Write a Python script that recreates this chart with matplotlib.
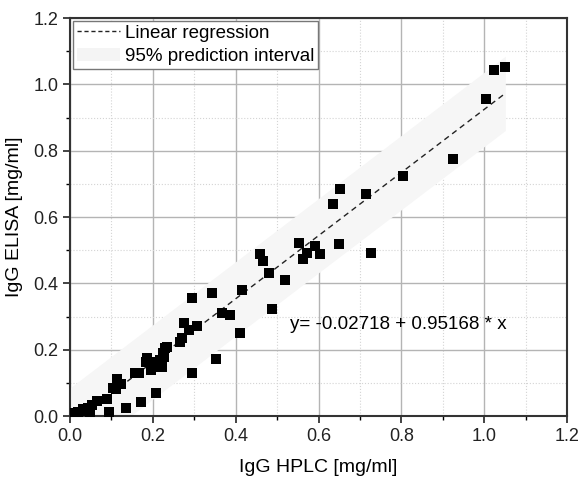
import numpy as np
import matplotlib
matplotlib.use("Agg")
import matplotlib.pyplot as plt
from matplotlib.patches import Patch
from matplotlib.lines import Line2D
from matplotlib.ticker import MultipleLocator

plt.rcParams['font.family'] = ['Liberation Sans', 'DejaVu Sans']

# IgG concentrations
hplc = [1.051, 1.023, 1.005, 0.925, 0.804, 0.727, 0.714, 0.652, 0.634, 0.650,
        0.604, 0.592, 0.552, 0.571, 0.562, 0.519, 0.481, 0.465, 0.459, 0.487,
        0.416, 0.411, 0.386, 0.366, 0.344, 0.353, 0.294, 0.306, 0.287, 0.276,
        0.295, 0.270, 0.265, 0.235, 0.229, 0.225, 0.227, 0.217, 0.217, 0.221,
        0.199, 0.185, 0.184, 0.196, 0.167, 0.157, 0.207, 0.171, 0.134, 0.114,
        0.123, 0.105, 0.110, 0.089, 0.093, 0.064, 0.054, 0.044, 0.032, 0.048,
        0.020, 0.012, 0.038]
elisa = [1.052, 1.043, 0.957, 0.776, 0.724, 0.490, 0.670, 0.685, 0.639, 0.520,
         0.487, 0.513, 0.522, 0.492, 0.473, 0.410, 0.430, 0.466, 0.488, 0.323,
         0.380, 0.249, 0.304, 0.311, 0.370, 0.171, 0.357, 0.272, 0.259, 0.281,
         0.131, 0.235, 0.222, 0.209, 0.204, 0.189, 0.179, 0.169, 0.149, 0.147,
         0.164, 0.174, 0.164, 0.139, 0.131, 0.129, 0.070, 0.043, 0.023, 0.112,
         0.098, 0.083, 0.080, 0.051, 0.011, 0.046, 0.033, 0.025, 0.020, 0.013,
         0.012, 0.008, 0.015]

intercept = -0.02718
slope = 0.95168
pi_half = 0.112  # half width of the 95% prediction band

x = np.array(hplc)
y = np.array(elisa)

fig = plt.figure(figsize=(5.8, 4.78), dpi=100)
ax = fig.add_axes([0.1207, 0.1297, 0.857, 0.8326])

xl = np.linspace(0.0, x.max(), 200)
yl = intercept + slope * xl
ax.fill_between(xl, yl - pi_half, yl + pi_half, color='#f6f6f6', lw=0, zorder=1)
ax.plot(xl[xl > 0.025], yl[xl > 0.025], ls=(0, (4, 3)), color='#222222', lw=1, zorder=3)
ax.scatter(x, y, marker='s', s=50, color='black', lw=0, zorder=4)

ax.set_xlim(0, 1.2)
ax.set_ylim(0, 1.2)
ax.xaxis.set_major_locator(MultipleLocator(0.2))
ax.yaxis.set_major_locator(MultipleLocator(0.2))
ax.xaxis.set_minor_locator(MultipleLocator(0.1))
ax.yaxis.set_minor_locator(MultipleLocator(0.1))
ax.grid(which='major', color='#b4b4b4', lw=1, zorder=0)
ax.grid(which='minor', color='#d4d4d4', lw=0.8, ls=':', zorder=0)
ax.set_axisbelow(True)
ax.tick_params(which='major', direction='out', length=5, width=1.2, labelsize=13, colors='#222222')
ax.tick_params(which='minor', direction='out', length=3, width=1)
for s in ax.spines.values():
    s.set_linewidth(1.5)
    s.set_color('#333333')

ax.set_xlabel('IgG HPLC [mg/ml]', fontsize=14, labelpad=10)
ax.set_ylabel('IgG ELISA [mg/ml]', fontsize=14, labelpad=7)

ax.text(0.531, 0.275, 'y= -0.02718 + 0.95168 * x', fontsize=13.5, va='center', ha='left', zorder=5)

handles = [Line2D([], [], ls=(0, (3, 2)), color='#222222', lw=1),
           Patch(facecolor='#f4f4f4', edgecolor='none')]
leg = ax.legend(handles, ['Linear regression', '95% prediction interval'], loc='upper left',
                fontsize=13.5, fancybox=False, framealpha=1, edgecolor='#777777',
                borderaxespad=0.15, handlelength=2.3, handletextpad=0.3,
                borderpad=0.2, labelspacing=0.35)
leg.get_frame().set_linewidth(1)

fig.savefig('out.png', dpi=100)
